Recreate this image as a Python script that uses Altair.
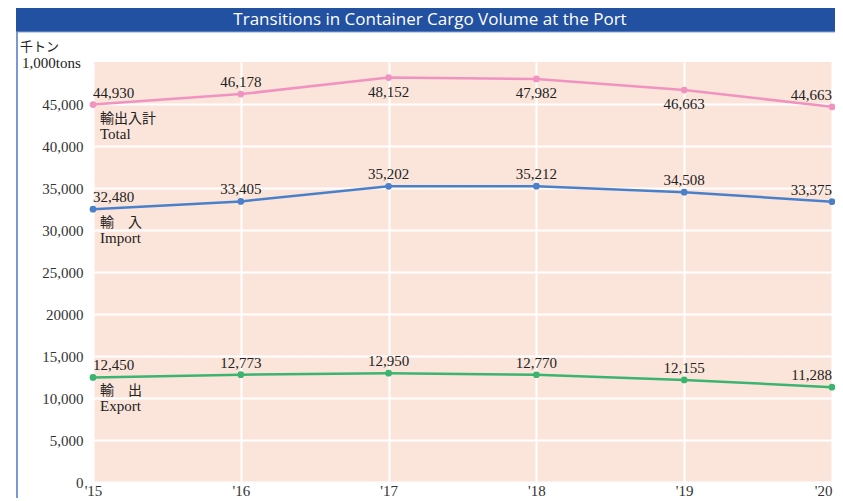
import altair as alt
import pandas as pd

years = ["'15", "'16", "'17", "'18", "'19", "'20"]
series = ["Total", "Import", "Export"]
total = [44930, 46178, 48152, 47982, 46663, 44663]
imports = [32480, 33405, 35202, 35212, 34508, 33375]
exports = [12450, 12773, 12950, 12770, 12155, 11288]
total_label_below = [False, False, True, True, True, False]
names_jp = ["輸出入計", "輸　入", "輸　出"]
names_en = ["Total", "Import", "Export"]
colors = ["#f093c0", "#4a80c9", "#3bb46f"]
y_ticks = [0, 5000, 10000, 15000, 20000, 25000, 30000, 35000, 40000, 45000]
title_text = "Transitions in Container Cargo Volume at the Port"
unit_jp = "千トン"
unit_en = "1,000tons"

rows = []
for s, vals in zip(series, [total, imports, exports]):
    for i, (yr, v) in enumerate(zip(years, vals)):
        pos = "first" if i == 0 else ("last" if i == len(years) - 1 else "mid")
        below = bool(total_label_below[i]) if s == "Total" else False
        rows.append({"year": yr, "series": s, "value": v, "pos": pos, "below": below})
df = pd.DataFrame(rows)

names_df = pd.DataFrame({
    "year": [years[0]] * 3,
    "series": series,
    "value": [total[0], imports[0], exports[0]],
    "jp": names_jp,
    "en": names_en,
})

W, H = 739, 420
RP = 3
SERIF = "Liberation Serif"

x_enc = alt.X("year:N", sort=years, scale=alt.Scale(type="point", padding=0),
              axis=alt.Axis(labelAngle=0, grid=True, gridColor="white", gridWidth=2,
                            domain=False, ticks=False, labelFont=SERIF, labelFontSize=15,
                            labelColor="#333333", labelPadding=1, title=None,
                            labelAlign={"condition": {"test": "datum.index == 1", "value": "right"},
                                        "value": "center"}))
y_enc = alt.Y("value:Q", scale=alt.Scale(domain=[0, 50000], nice=False),
              axis=alt.Axis(values=y_ticks, grid=True, gridColor="white", gridWidth=2,
                            domain=False, ticks=False, labelFont=SERIF, labelFontSize=15,
                            labelColor="#333333", labelPadding=10, title=None,
                            labelExpr="datum.value == 20000 ? '20000' : format(datum.value, ',')"))
color_enc = alt.Color("series:N", scale=alt.Scale(domain=series, range=colors), legend=None)

base = alt.Chart(df)
lines = base.mark_line(strokeWidth=2.5).encode(x=x_enc, y=y_enc, color=color_enc, detail="series:N")
points = base.mark_circle(size=45, opacity=1).encode(x=x_enc, y=y_enc, color=color_enc)

def lbl(filt, align, dy):
    return base.transform_filter(filt).mark_text(
        align=align, baseline="alphabetic", dy=dy, font=SERIF, fontSize=15, color="#222222"
    ).encode(x=x_enc, y=y_enc, text=alt.Text("value:Q", format=","))

lab_first = lbl("datum.pos == 'first'", "left", -7)
lab_mid_up = lbl("datum.pos == 'mid' && !datum.below", "center", -7)
lab_mid_dn = lbl("datum.pos == 'mid' && datum.below", "center", 19)
lab_last = lbl("datum.pos == 'last'", "right", -7)

nb = alt.Chart(names_df)
name_jp = nb.mark_text(align="left", baseline="alphabetic", dx=7, dy=18,
                       font="Noto Sans CJK JP", fontSize=14, color="#222222").encode(
    x=x_enc, y=y_enc, text="jp:N")
name_en = nb.mark_text(align="left", baseline="alphabetic", dx=7, dy=34,
                       font=SERIF, fontSize=15, color="#222222").encode(
    x=x_enc, y=y_enc, text="en:N")

one = alt.Chart(alt.Data(values=[{"t": title_text, "u1": unit_jp, "u2": unit_en}]))
bar = one.mark_rect(color="#2251a1").encode(
    x=alt.value(-77), x2=alt.value(W + RP), y=alt.value(-54), y2=alt.value(-30))
bar_line = one.mark_rule(color="#86a4d8", strokeWidth=1).encode(
    x=alt.value(-77), x2=alt.value(W + RP), y=alt.value(-30))
left_border = one.mark_rule(color="#7a98d2", strokeWidth=2).encode(
    x=alt.value(-76), y=alt.value(-30), y2=alt.value(H + 30))
title = one.mark_text(font="Open Sans", fontSize=17, color="white", baseline="middle",
                      align="center").encode(x=alt.value(337), y=alt.value(-42), text="t:N")
u1 = one.mark_text(font="Noto Sans CJK JP", fontSize=13, color="#222222", align="left",
                   baseline="alphabetic").encode(x=alt.value(-73), y=alt.value(-11), text="u1:N")
u2 = one.mark_text(font=SERIF, fontSize=15, color="#222222", align="left",
                   baseline="alphabetic").encode(x=alt.value(-71), y=alt.value(6), text="u2:N")

chart = alt.layer(
    lines, points, lab_first, lab_mid_up, lab_mid_dn, lab_last, name_jp, name_en,
    bar, bar_line, left_border, title, u1, u2
).properties(
    width=W, height=H,
    background="white",
    autosize=alt.AutoSizeParams(type="none"),
    padding={"left": 85, "top": 54, "right": RP, "bottom": 16},
).configure_view(fill="#fbe5da", stroke=None)

chart.save("out.html", embed_options={"renderer": "svg", "actions": False})
